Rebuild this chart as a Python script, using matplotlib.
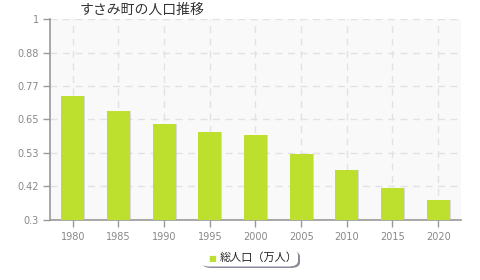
import matplotlib
matplotlib.use("Agg")
import numpy as np
from matplotlib import pyplot as plt
from matplotlib.patches import FancyBboxPatch

plt.rcParams['font.family'] = ['Noto Sans CJK JP', 'DejaVu Sans']

years = ['1980', '1985', '1990', '1995', '2000', '2005', '2010', '2015', '2020']
population = [0.731, 0.678, 0.633, 0.608, 0.596, 0.531, 0.475, 0.413, 0.370]
yticks = [0.3, 0.4167, 0.5333, 0.65, 0.7667, 0.8833, 1.0]
ytick_labels = ['0.3', '0.42', '0.53', '0.65', '0.77', '0.88', '1']

title = 'すさみ町の人口推移'
legend_label = '総人口（万人）'
bar_color = '#bde02f'

fig = plt.figure(figsize=(4.8, 2.8), dpi=100)
ax = fig.add_axes([50 / 480, 1 - 220 / 280, 411 / 480, 201 / 280])
ax.set_facecolor('#f9f9f9')

x = np.arange(len(years))
# little shadow behind each bar
ax.bar(x + 0.025, np.array(population) - 0.3, bottom=0.3, width=0.5,
       color='#b0b0b0', alpha=0.45, zorder=2)
ax.bar(x, np.array(population) - 0.3, bottom=0.3, width=0.5,
       color=bar_color, zorder=3)

ax.set_xlim(-0.5, len(years) - 0.5)
ax.set_ylim(0.3, 1.0)
ax.set_xticks(x)
ax.set_xticklabels(years)
ax.set_yticks(yticks)
ax.set_yticklabels(ytick_labels)

ax.grid(True, color='#e2e2e2', linestyle=(0, (5, 4)), linewidth=1, zorder=0)
ax.set_axisbelow(True)

for s in ['top', 'right']:
    ax.spines[s].set_visible(False)
for s in ['left', 'bottom']:
    ax.spines[s].set_color('#999999')
    ax.spines[s].set_linewidth(1.2)

ax.tick_params(axis='both', colors='#999999', labelcolor='#888888',
               labelsize=7, length=5, width=1)
ax.tick_params(axis='x', pad=4)
ax.tick_params(axis='y', pad=3)
for lab in ax.get_xticklabels() + ax.get_yticklabels():
    lab.set_family('DejaVu Sans')

fig.text(80 / 480, 1 - 10 / 280, title, fontsize=10, color='#333333',
         ha='left', va='center')

# legend box with shadow
shadow = FancyBboxPatch((202 / 480, 1 - 268 / 280), 98 / 480, 17 / 280,
                        boxstyle='round,pad=0,rounding_size=0.02',
                        transform=fig.transFigure, facecolor='#8a8a9a',
                        edgecolor='none')
box = FancyBboxPatch((200 / 480, 1 - 266.5 / 280), 98 / 480, 17 / 280,
                     boxstyle='round,pad=0,rounding_size=0.02',
                     transform=fig.transFigure, facecolor='white',
                     edgecolor='none')
fig.patches.extend([shadow, box])
fig.text(212 / 480, 1 - 258 / 280, '■', fontsize=6, color=bar_color,
         ha='center', va='center', family='DejaVu Sans')
fig.text(220 / 480, 1 - 258 / 280, legend_label, fontsize=8, color='#222222',
         ha='left', va='center')

fig.savefig('out.png', dpi=100)
